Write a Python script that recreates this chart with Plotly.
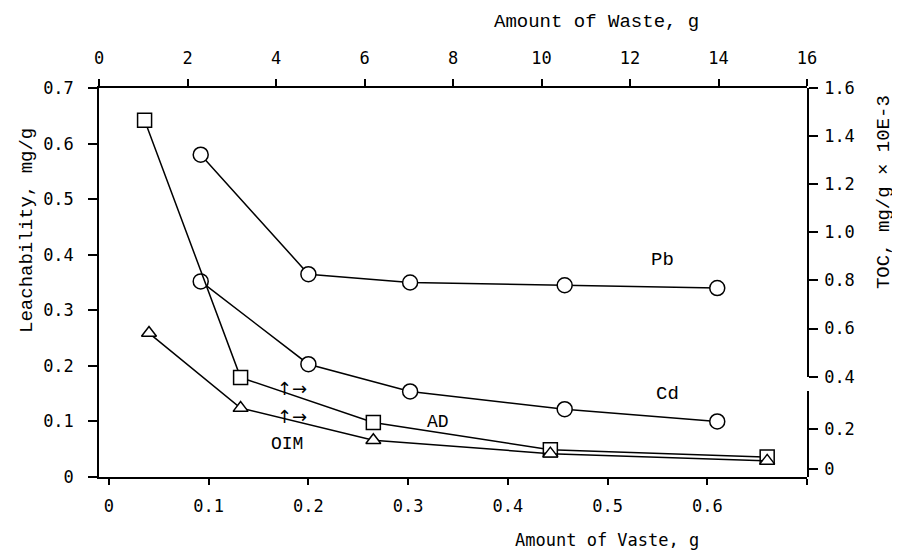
import plotly.graph_objects as go

# ---- data ----
# Pb and Cd: bottom axis (Amount of Waste, g) vs left axis (Leachability, mg/g)
waste_metal = [0.092, 0.2, 0.302, 0.457, 0.61]
pb_leach = [0.58, 0.365, 0.35, 0.345, 0.34]
cd_leach = [0.352, 0.203, 0.154, 0.122, 0.10]

# AD and OIM: top axis (Amount of Waste, g, 0-16), drawn at the picture's height on the left scale
waste_toc_ad = [1.03, 3.2, 6.2, 10.2, 15.1]
ad_level = [0.642, 0.179, 0.098, 0.049, 0.036]
waste_toc_oim = [1.13, 3.2, 6.2, 10.2, 15.1]
oim_level = [0.259, 0.124, 0.066, 0.042, 0.029]

bottom_ticks = [0, 0.1, 0.2, 0.3, 0.4, 0.5, 0.6, 0.7]
bottom_labels = ["0", "0.1", "0.2", "0.3", "0.4", "0.5", "0.6", ""]
top_ticks = [0, 2, 4, 6, 8, 10, 12, 14, 16]
right_upper_ticks = [0.4, 0.6, 0.8, 1.0, 1.2, 1.4, 1.6]
right_lower_ticks = [0, 0.2]
right_lower_labels = ["0", "0.2"]

TICKFONT = dict(family="DejaVu Sans Mono", size=17, color="black")
TITLEFONT = dict(family="Liberation Mono", size=19, color="black")

fig = go.Figure()

line = dict(color="black", width=1.5)
mk = lambda sym, size: dict(symbol=sym, size=size, color="white",
                            line=dict(color="black", width=1.5))

fig.add_trace(go.Scatter(x=waste_metal, y=pb_leach, mode="lines+markers",
                         line=line, marker=mk("circle", 15), name="Pb"))
fig.add_trace(go.Scatter(x=waste_metal, y=cd_leach, mode="lines+markers",
                         line=line, marker=mk("circle", 15), name="Cd"))
fig.add_trace(go.Scatter(x=waste_toc_ad, y=ad_level, xaxis="x2", yaxis="y",
                         mode="lines+markers", line=line,
                         marker=mk("square", 14), name="AD"))
fig.add_trace(go.Scatter(x=waste_toc_oim, y=oim_level, xaxis="x2", yaxis="y",
                         mode="lines+markers", line=line,
                         marker=mk("triangle-up", 13), name="OIM"))
# invisible anchors so the broken right-hand TOC axis is drawn
fig.add_trace(go.Scatter(x=[0.7], y=[right_upper_ticks[-1]], yaxis="y2",
                         mode="markers", marker=dict(opacity=0),
                         hoverinfo="skip", showlegend=False))
fig.add_trace(go.Scatter(x=[0.7], y=[right_lower_ticks[0]], yaxis="y3",
                         mode="markers", marker=dict(opacity=0),
                         hoverinfo="skip", showlegend=False))

common = dict(showline=True, linecolor="black", linewidth=1.5, showgrid=False,
              zeroline=False, ticks="outside", tickcolor="black", tickwidth=1.5,
              tickfont=TICKFONT)

fig.update_layout(
    width=892, height=545,
    margin=dict(l=91, r=93, t=80, b=76),
    paper_bgcolor="white", plot_bgcolor="rgba(0,0,0,0)",
    showlegend=False,
    xaxis=dict(range=[-0.01, 0.7], tickvals=bottom_ticks, ticktext=bottom_labels,
               ticklen=6, ticklabelstandoff=7, **common),
    xaxis2=dict(range=[0, 16], tickvals=top_ticks, overlaying="x", side="top",
                anchor="y", ticklen=7, ticklabelstandoff=8, **common),
    yaxis=dict(range=[0, 0.7], dtick=0.1, ticklen=9, ticklabelstandoff=11,
               **common),
    yaxis2=dict(domain=[0.258, 1], range=[0.4, 1.6], tickvals=right_upper_ticks,
                tickformat=".1f", anchor="x", side="right", ticklen=9,
                ticklabelstandoff=3, **common),
    yaxis3=dict(domain=[0, 0.22], range=[-0.0375, 0.39], tickvals=right_lower_ticks,
                ticktext=right_lower_labels, anchor="x", side="right", ticklen=9,
                ticklabelstandoff=3, **common),
)

labels = [
    ("Pb", 0.555, 0.39, 19),
    ("Cd", 0.56, 0.149, 19),
    ("AD", 0.33, 0.099, 18),
    ("OIM", 0.179, 0.06, 18),
]
for text, x, y, s in labels:
    fig.add_annotation(x=x, y=y, xref="x", yref="y", text=text, showarrow=False,
                       font=dict(family="Liberation Mono", size=s, color="black"))
for y in [0.16, 0.109]:
    fig.add_annotation(x=0.184, y=y, xref="x", yref="y", text="↑→", showarrow=False,
                       font=dict(family="DejaVu Sans", size=18, color="black"))

fig.add_annotation(x=0.703, y=1.17, xref="paper", yref="paper",
                   xanchor="center", yanchor="middle",
                   text="Amount of Waste, g", showarrow=False, font=TITLEFONT)
fig.add_annotation(x=0.7175, y=-0.162, xref="paper", yref="paper",
                   xanchor="center", yanchor="middle",
                   text="Amount of Vaste, g", showarrow=False,
                   font=dict(family="DejaVu Sans Mono", size=17, color="black"))
fig.add_annotation(x=-0.1017, y=0.635, xref="paper", yref="paper",
                   xanchor="center", yanchor="middle",
                   text="Leachability, mg/g", showarrow=False, textangle=-90,
                   font=TITLEFONT)
fig.add_annotation(x=1.109, y=0.733, xref="paper", yref="paper",
                   xanchor="center", yanchor="middle",
                   text="TOC, mg/g × 10E-3", showarrow=False, textangle=-90,
                   font=TITLEFONT)

fig.write_html("out.html")
